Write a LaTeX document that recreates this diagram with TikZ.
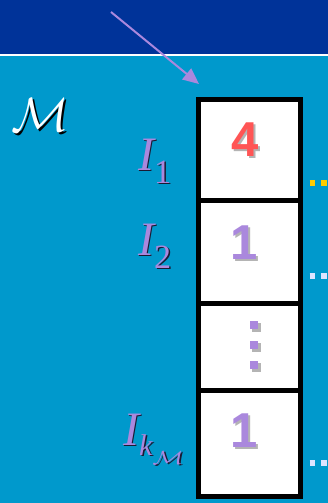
\documentclass[tikz,border=0pt]{standalone}
\usepackage{fontspec}
\newfontfamily\serifI{Liberation Serif}
\newfontfamily\sansD{Liberation Sans}
\usetikzlibrary{arrows.meta}
\definecolor{topblue}{HTML}{003399}
\definecolor{bgcyan}{HTML}{0099CC}
\definecolor{lav}{HTML}{AA88DD}
\definecolor{redd}{HTML}{FF5555}
\definecolor{dotyel}{HTML}{FFCC00}
\definecolor{dotlight}{HTML}{DDE4FF}
\definecolor{shade}{HTML}{B4B4B4}
\definecolor{dshadow}{HTML}{1A1A33}
% text with a drop shadow: #1 offset, #2 shadow colour, #3 content
\newcommand\shd[3]{\makebox[0pt][l]{\hspace{#1}\raisebox{-#1}[0pt][0pt]{\color{#2}#3}}#3}
\newcommand\labI[1]{{\fontsize{48}{48}\selectfont\serifI\itshape I}\raisebox{-13pt}{\fontsize{34}{34}\selectfont\serifI #1}}
\newcommand\labK{{\fontsize{48}{48}\selectfont\serifI\itshape I}\raisebox{-10pt}{\fontsize{30}{30}\selectfont\serifI\itshape k}\raisebox{-19pt}{\scalebox{2.6}[1.9]{$\mathcal{M}$}}}
\begin{document}
\begin{tikzpicture}[x=1pt,y=-1pt,
  cell/.style={draw=black,fill=white,line width=5pt,minimum width=102pt,inner sep=0pt},
  digit/.style={inner sep=0pt,font=\sansD\bfseries\fontsize{49}{49}\selectfont},
  sqdot/.style={fill=lav,minimum size=8.5pt,inner sep=0pt},
  sqshadow/.style={fill=shade,minimum size=8.5pt,inner sep=0pt},
  lbl/.style={inner sep=0pt,anchor=base west,text=lav},
  dotline/.style={line width=5.5pt,dash pattern=on 5.5pt off 6pt},
  pointer/.style={draw=lav,line width=2pt,-{Triangle[length=16pt,width=14pt,fill=lav]}}]
\fill[bgcyan] (0,0) rectangle (328,503);
\fill[topblue] (0,0) rectangle (328,54);
\fill[white] (0,54) rectangle (328,56.5);
\useasboundingbox (0,0) rectangle (328,503);

% script M
\node[inner sep=0pt,text=white] (bigM) at (40,115) {\shd{2pt}{black}{\scalebox{4.8}{$\mathcal{M}$}}};

% dotted leaders (drawn first so the box covers their start)
\coordinate (e1) at (328,183);
\coordinate (e2) at (328,276);
\coordinate (e4) at (328,463);
\coordinate (s1) at (309.5,183);
\coordinate (s2) at (309.5,276);
\coordinate (s4) at (309.5,463);
\draw[dotline,dotyel] (s1) -- (e1);
\draw[dotline,dotlight] (s2) -- (e2);
\draw[dotline,dotlight] (s4) -- (e4);

% cells
\node[cell,minimum height=101pt] (c1) at (249.5,150) {};
\node[cell,minimum height=103pt] (c2) at (249.5,252) {};
\node[cell,minimum height=86.5pt] (c3) at (249.5,346.75) {};
\node[cell,minimum height=106.5pt] (c4) at (249.5,443.25) {};

% digits with shadows
\node[digit,text=redd] (d1) at (245,140) {\shd{2pt}{shade}{4}};
\node[digit,text=lav] (d2) at (244,243) {\shd{2pt}{shade}{1}};
\node[digit,text=lav] (d4) at (244,431) {\shd{2pt}{shade}{1}};

% vertical dots
\foreach \yy/\nm in {325/v1,345/v2,365/v3}{
  \node[sqshadow] at (256.5,\yy+2.5) {};
  \node[sqdot] (\nm) at (254,\yy) {};
}

% labels
\node[lbl] (l1) at (138,170) {\shd{1.5pt}{dshadow}{\labI{1}}};
\node[lbl] (l2) at (138,255) {\shd{1.5pt}{dshadow}{\labI{2}}};
\node[lbl] (l4) at (123,445) {\shd{1.5pt}{dshadow}{\labK}};

% pointer arrow
\coordinate (from) at (111,12);
\coordinate (tip) at (199,84);
\draw[pointer] (from) -- (tip);
\end{tikzpicture}
\end{document}
